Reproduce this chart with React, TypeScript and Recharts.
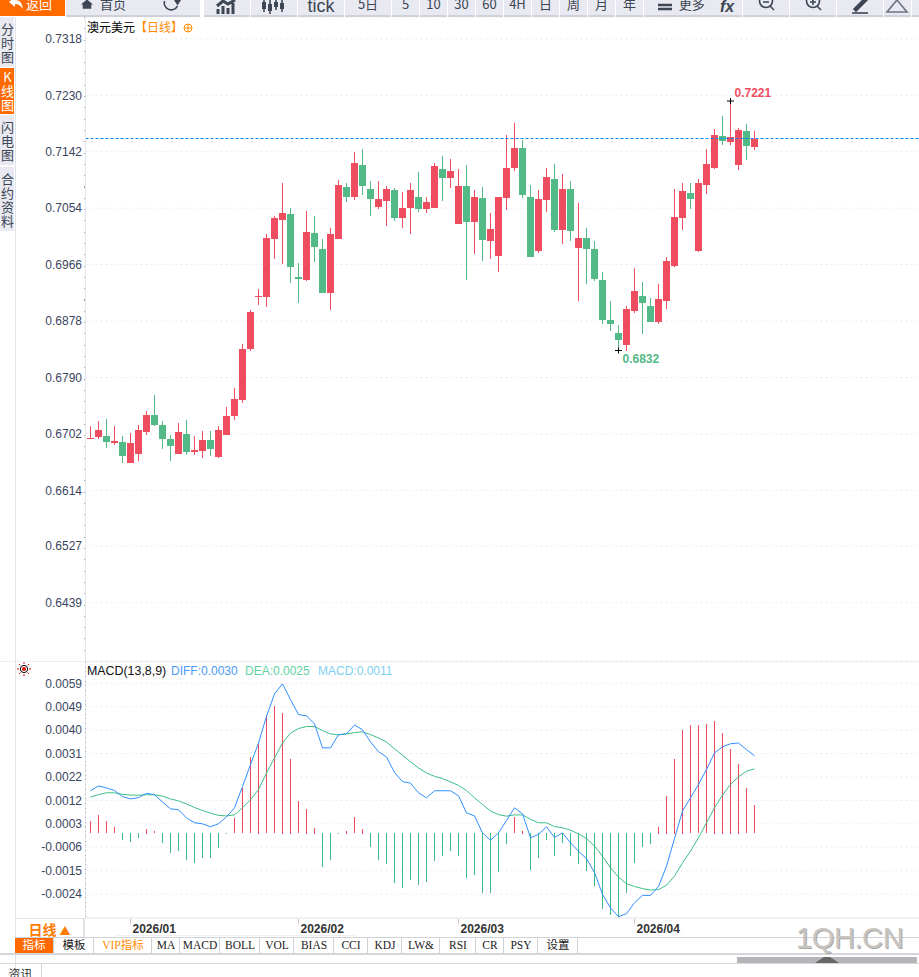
import React from "react";
import { ComposedChart, Bar, Line, XAxis, YAxis, CartesianGrid, ReferenceLine, ReferenceDot } from "recharts";

// daily AUD/USD candles
const opens = [0.66937,0.66968,0.66983,0.66874,0.6689,0.66563,0.66703,0.67046,0.67311,0.67155,0.66937,0.66703,0.67015,0.66734,0.6675,0.66921,0.66656,0.66999,0.67295,0.67545,0.6834,0.6915,0.6915,0.70054,0.70351,0.70444,0.69462,0.69415,0.70148,0.69899,0.69213,0.70054,0.70865,0.70709,0.71208,0.70834,0.70553,0.70647,0.70818,0.70382,0.70538,0.70709,0.70522,0.70538,0.71146,0.71005,0.70288,0.70881,0.7032,0.70694,0.70023,0.69789,0.70694,0.71161,0.71473,0.70709,0.69867,0.70662,0.7099,0.70195,0.70834,0.69914,0.7007,0.69899,0.69415,0.68792,0.68589,0.68402,0.68932,0.69166,0.6901,0.68761,0.69088,0.69634,0.70382,0.70772,0.69867,0.70896,0.71161,0.7166,0.71567,0.71208,0.71738,0.71489];
const highs = [0.67139,0.67217,0.67248,0.67139,0.66983,0.6703,0.67155,0.67373,0.67623,0.67217,0.66999,0.67186,0.67233,0.66983,0.67061,0.67061,0.67139,0.67436,0.67732,0.68418,0.68948,0.69275,0.70132,0.70413,0.70927,0.70538,0.6968,0.70491,0.70413,0.70054,0.70226,0.70974,0.70927,0.71411,0.71457,0.70959,0.70959,0.70881,0.7085,0.70787,0.70927,0.71099,0.70709,0.71239,0.71348,0.71302,0.71146,0.71208,0.70818,0.70865,0.7046,0.70709,0.71676,0.71863,0.71598,0.70896,0.70818,0.71161,0.71224,0.71068,0.70959,0.70616,0.70226,0.70023,0.6954,0.69088,0.68714,0.6901,0.69602,0.69384,0.69135,0.69353,0.69774,0.70834,0.70927,0.70927,0.7099,0.71457,0.71769,0.71972,0.7221,0.71785,0.71847,0.71738];
const lows = [0.66937,0.66937,0.66796,0.66843,0.66563,0.66563,0.66594,0.66999,0.67139,0.66781,0.66594,0.66703,0.66687,0.66687,0.6664,0.66672,0.6664,0.66999,0.67233,0.67498,0.68309,0.69026,0.68994,0.69743,0.69665,0.69369,0.69057,0.694,0.69696,0.69213,0.68948,0.70054,0.70631,0.70662,0.7074,0.70413,0.70522,0.70257,0.70335,0.70226,0.70132,0.70475,0.7046,0.70538,0.70647,0.7085,0.70288,0.69415,0.69821,0.69712,0.69743,0.6954,0.70507,0.71115,0.70694,0.69774,0.69836,0.70475,0.70164,0.69977,0.70023,0.69088,0.69353,0.694,0.68729,0.6862,0.6832,0.68309,0.68901,0.68574,0.68761,0.68729,0.68963,0.69618,0.70195,0.70522,0.69852,0.70756,0.71146,0.7152,0.7152,0.7113,0.71286,0.71442];
const closes = [0.66952,0.67077,0.6689,0.66905,0.66672,0.66874,0.67077,0.67311,0.67155,0.66937,0.66828,0.67046,0.66734,0.66765,0.66921,0.66781,0.67077,0.67295,0.6756,0.6834,0.68916,0.69166,0.7007,0.70382,0.7046,0.69618,0.69431,0.70164,0.6993,0.69213,0.70132,0.70896,0.70709,0.71239,0.70881,0.70678,0.70678,0.70834,0.70382,0.70538,0.70818,0.70522,0.70631,0.71192,0.71005,0.71115,0.70881,0.7032,0.70709,0.70039,0.7021,0.70709,0.71161,0.71473,0.7074,0.69774,0.70678,0.71021,0.70195,0.70834,0.70179,0.7007,0.69899,0.69431,0.68792,0.68729,0.6848,0.68963,0.69244,0.69057,0.68761,0.69119,0.69712,0.70397,0.70803,0.70678,0.70927,0.71224,0.71676,0.71582,0.71645,0.71754,0.71504,0.71613];

const diff = [0.00167,0.00186,0.00178,0.00168,0.00144,0.00135,0.0014,0.00157,0.00151,0.00123,0.00096,0.00092,0.0006,0.00041,0.00037,0.00025,0.00037,0.00064,0.001,0.00184,0.0027,0.00355,0.0046,0.00548,0.00588,0.00526,0.00467,0.00462,0.0043,0.00336,0.00336,0.00388,0.00391,0.00426,0.00407,0.00359,0.00321,0.003,0.00239,0.00203,0.00197,0.00159,0.00139,0.00167,0.00167,0.00167,0.00147,0.0008,0.00068,0.00001,-0.00028,0.00001,0.0005,0.001,0.00076,-0.00018,-0.00005,0.00025,-0.00017,0.00001,-0.00038,-0.00071,-0.001,-0.00155,-0.00241,-0.00294,-0.00329,-0.00317,-0.00274,-0.00245,-0.00245,-0.0021,-0.0013,-0.00021,0.00087,0.00139,0.00192,0.00251,0.00316,0.0034,0.00352,0.00355,0.00329,0.00305];
const dea = [0.00142,0.00152,0.00159,0.00159,0.00153,0.0015,0.0015,0.00151,0.00151,0.00146,0.00135,0.00127,0.00115,0.00101,0.00089,0.00079,0.0007,0.00068,0.00072,0.001,0.00132,0.00172,0.00237,0.00296,0.00355,0.00394,0.00412,0.0042,0.0042,0.00404,0.00391,0.00387,0.00391,0.00396,0.00399,0.00388,0.00375,0.00359,0.00332,0.00307,0.00281,0.00257,0.00237,0.00224,0.00215,0.00202,0.00188,0.00168,0.00139,0.00113,0.00087,0.00073,0.00067,0.00072,0.00072,0.00055,0.00041,0.00041,0.00026,0.00021,0.00012,-0.00003,-0.00021,-0.00051,-0.00091,-0.00136,-0.00173,-0.00199,-0.0021,-0.00218,-0.00224,-0.00222,-0.00205,-0.00169,-0.00117,-0.00071,-0.00018,0.00041,0.001,0.0015,0.00192,0.00222,0.00244,0.00253];
const macd = [0.00047,0.0007,0.00047,0.00024,-0.00029,-0.00037,-0.00021,0.00018,0.00007,-0.00041,-0.0008,-0.00072,-0.00108,-0.00119,-0.001,-0.001,-0.0006,-0.00005,0.00058,0.00178,0.00298,0.00357,0.00466,0.00502,0.00475,0.00294,0.00125,0.00097,0.00022,-0.00135,-0.00108,-0.00005,0.0001,0.00062,0.00018,-0.00056,-0.00108,-0.00123,-0.00198,-0.00218,-0.00186,-0.00206,-0.00194,-0.00111,-0.00092,-0.00072,-0.00092,-0.00178,-0.00167,-0.00237,-0.00237,-0.00155,-0.00045,0.00062,0.0001,-0.00147,-0.001,-0.00029,-0.00092,-0.00041,-0.00092,-0.00123,-0.00151,-0.0021,-0.003,-0.00324,-0.00332,-0.00237,-0.00119,-0.00056,-0.00045,0.00026,0.00148,0.00294,0.00408,0.00424,0.00424,0.00428,0.00443,0.00396,0.00333,0.00274,0.00176,0.00109];

const priceTicks = [0.7318, 0.723, 0.7142, 0.7054, 0.6966, 0.6878, 0.679, 0.6702, 0.6614, 0.6527, 0.6439];
const macdTicks = [0.0059, 0.00498, 0.00406, 0.00314, 0.00221, 0.00129, 0.00037, -0.00055, -0.00148, -0.0024];
const macdTickLabels = ["0.0059", "0.0049", "0.0040", "0.0031", "0.0022", "0.0012", "0.0003", "-0.0006", "-0.0015", "-0.0024"];
const monthTicks = [5, 26, 46, 68];
const monthLabels = ["2026/01", "2026/02", "2026/03", "2026/04"];

const lastPrice = 0.71626;
const RED = "#ee4d5f";
const GREEN = "#52b987";
const SANS = '"Liberation Sans", Arial, "Noto Sans CJK SC", sans-serif';
const CJK = '"Noto Sans CJK SC", sans-serif';

const rows = opens.map((open, i) => ({
  session: i,
  open,
  high: highs[i],
  low: lows[i],
  close: closes[i],
  diff: diff[i],
  dea: dea[i],
  macd: macd[i],
}));

// body position is taken from the wick rectangle that the y scale already gave us
function Candle(props: any) {
  const { x, y, width, height, payload } = props;
  const { open, close, high, low } = payload;
  const color = close >= open ? RED : GREEN;
  const perUnit = high === low ? 0 : height / (high - low);
  const top = Math.round(y + (high - Math.max(open, close)) * perUnit);
  const bottom = Math.round(y + (high - Math.min(open, close)) * perUnit);
  const px = Math.round(x + width / 2 - 0.5); // whole pixel, otherwise the wick goes pale
  return (
    <g>
      <rect x={px} y={Math.round(y)} width={1} height={Math.max(Math.round(height), 1)} fill={color} />
      <rect x={px - 3} y={top} width={7} height={Math.max(bottom - top, 1)} fill={color} />
    </g>
  );
}

// 1px histogram stick in the middle of the band, snapped so it stays crisp
function Stick(props: any) {
  const { x, y, width, height, payload } = props;
  const top = Math.round(Math.min(y, y + height));
  const h = Math.max(Math.round(Math.abs(height)), 1);
  const px = Math.round(x + width / 2 - 0.5);
  return <rect x={px} y={top} width={1} height={h} fill={payload.macd >= 0 ? "#f0475a" : "#3dba85"} />;
}

function Extreme(props: any) {
  const { cx, cy, label, color, dx, dy } = props;
  return (
    <g>
      <line x1={cx - 3.5} x2={cx + 3.5} y1={cy} y2={cy} stroke="#000" />
      <line x1={cx} x2={cx} y1={cy - 3} y2={cy + 3} stroke="#000" />
      <text x={cx + dx} y={cy + dy} fill={color} fontFamily={SANS} fontSize={12} fontWeight="bold">{label}</text>
    </g>
  );
}

function MonthTick(props: any) {
  const { x, y, payload } = props;
  return (
    <g>
      <line x1={x} x2={x} y1={y - 1} y2={y + 4} stroke="#ccc" />
      <text x={x + 2} y={y + 13} fill="#333" fontFamily={SANS} fontSize={12} fontWeight="bold">
        {monthLabels[monthTicks.indexOf(payload.value)]}
      </text>
    </g>
  );
}

// [left, right, label, shift of the label]
const toolbar: [number, number, string, number][] = [
  [66, 137, "首页", 16], [137, 201, "", 0], [204, 251, "", 0], [251, 298, "", 0], [298, 345, "tick", 0], [345, 392, "5日", 0],
  [392, 420, "5", 0], [420, 448, "10", 0], [448, 476, "30", 0], [476, 504, "60", 0], [504, 532, "4H", 0], [532, 560, "日", 0],
  [560, 588, "周", 0], [588, 616, "月", 0], [616, 644, "年", 0], [644, 715, "更多", 17], [715, 743, "", 0], [743, 790, "", 0],
  [790, 837, "", 0], [837, 884, "", 0], [884, 912, "", 0], [912, 925, "", 0],
];

// [top, bottom, first glyph offset, label]
const sideTabs: [number, number, number, string, boolean][] = [
  [17, 67, 6, "分时图", false],
  [68, 114, 3, "K线图", true],
  [115, 165, 6, "闪电图", false],
  [167, 231, 6, "合约资料", false],
];

const bottomTabs: [number, number, string][] = [
  [15, 54, "指标"], [55, 94, "模板"], [95, 152, "VIP指标"], [153, 180, "MA"], [181, 220, "MACD"], [221, 260, "BOLL"],
  [261, 294, "VOL"], [295, 334, "BIAS"], [335, 368, "CCI"], [369, 402, "KDJ"], [403, 440, "LW&"], [441, 476, "RSI"],
  [477, 504, "CR"], [505, 538, "PSY"], [539, 578, "设置"],
];

function abs(left: number, top: number, width: number, height: number, extra: React.CSSProperties = {}): React.CSSProperties {
  return { position: "absolute", left, top, width, height, ...extra };
}

function Icon({ x, children }: { x: number; children: React.ReactNode }) {
  return (
    <svg style={abs(x - 14, 0, 28, 16)} viewBox="0 0 28 16" fill="none" stroke="#3c4654" strokeWidth={1.6}>
      {children}
    </svg>
  );
}

export default function App() {
  return (
    <div style={abs(0, 0, 919, 977, { overflow: "hidden", background: "#fff", fontFamily: SANS })}>
      {/* toolbar */}
      <div style={abs(0, 0, 65, 16, { background: "#ff6a00", color: "#fff", fontSize: 13, fontFamily: CJK, lineHeight: "8px", overflow: "hidden", paddingLeft: 26, boxSizing: "border-box" })}>返回</div>
      <svg style={abs(8, 0, 16, 10)} viewBox="0 0 16 10"><path d="M1 2 L7 -3 V0 C12 0 14 3 15 9 C12 5 10 4 7 4 V7 Z" fill="#fff" /></svg>
      {toolbar.map(([l, r, label, shift]) => (
        <div key={l} style={abs(l, 0, r - l - 1, 15, {
          background: "#e8e9f1", borderBottom: "2px solid #cfd0d9", color: "#3c4654", textAlign: "center", overflow: "hidden",
          fontFamily: label === "tick" ? SANS : CJK, fontSize: label === "tick" ? 18 : 13,
          lineHeight: label === "tick" ? "12px" : "8px", paddingLeft: shift, boxSizing: "content-box",
        })}><span style={{ marginLeft: -shift / 2 }}>{label}</span></div>
      ))}
      <div style={abs(720, 1, 22, 14, { color: "#3c4654", fontFamily: SANS, fontStyle: "italic", fontWeight: "bold", fontSize: 16, lineHeight: "12px" })}>fx</div>
      <svg style={abs(81, 0, 12, 9)} viewBox="0 0 14 10"><path d="M0 5 L7 -1 L14 5 H12 V10 H2 V5 Z" fill="#3c4654" /></svg>
      <Icon x={171}><path d="M7.5 1 A7 7 0 0 0 20.5 6" /><path d="M17 0 H24 L20.5 5.5 Z" fill="#3c4654" stroke="none" /></Icon>
      <Icon x={227}><path d="M5 14 V9 M10 14 V6 M15 14 V8 M20 14 V3 M4 6 L10 1 L15 4 L22 0" strokeWidth={3} /></Icon>
      <Icon x={274}><path d="M4 0 V12 M10 0 V14 M16 0 V10 M22 0 V12" /><path d="M4 2 V9 M10 4 V11 M16 2 V7 M22 3 V9" strokeWidth={4} /></Icon>
      <Icon x={665}><path d="M7 5 H21 M7 9 H21" strokeWidth={2.6} /></Icon>
      <Icon x={766}><circle cx={14} cy={1} r={6.5} /><path d="M11 2 H17 M18 6 L22 10" /></Icon>
      <Icon x={813}><circle cx={14} cy={1} r={6.5} /><path d="M11 2 H17 M14 -1 V5 M18 6 L22 10" /></Icon>
      <Icon x={860}><path d="M8 9 L19 -2 L21 0 L10 11 Z" fill="#3c4654" /><path d="M6 13 H22" /></Icon>
      <Icon x={897}><path d="M14 0 L4 12 H24 Z" stroke="#6d7480" /></Icon>

      {/* side tabs */}
      <div style={abs(15, 17, 1, 960, { background: "#dfe2e6" })} />
      {sideTabs.map(([t, b, pad, label, active]) => (
        <div key={t} style={abs(0, t, 14, b - t - pad, {
          background: active ? "#ff6a00" : "#e8e9f1", color: active ? "#fff" : "#3c4654", fontFamily: CJK,
          fontSize: 13, letterSpacing: 1, lineHeight: "14px", overflow: "hidden", paddingTop: pad,
          writingMode: "vertical-rl", textOrientation: "upright",
        })}>{label}</div>
      ))}

      {/* price panel */}
      <div style={abs(0, 17, 919, 644)}>
        <ComposedChart width={919} height={644} data={rows} margin={{ top: 0, right: 0, bottom: 0, left: 0 }}>
          <CartesianGrid horizontal vertical={false} stroke="#ececec" strokeDasharray="2 3" />
          <XAxis dataKey="session" type="number" domain={[-0.625, 103.5625]} hide />
          <YAxis domain={[0.6348, 0.7352]} ticks={priceTicks} interval={0} width={85.5} tickLine={false} tickSize={0}
            axisLine={{ stroke: "#e4e7ea" }} tickMargin={3.5}
            tick={{ fontSize: 12, fill: "#3a4560", fontFamily: SANS }} tickFormatter={(v: number) => v.toFixed(4)} />
          <Bar dataKey={(d: any) => [d.low, d.high]} barSize={8} shape={Candle} isAnimationActive={false} />
          <ReferenceLine y={lastPrice} stroke="#0a84ff" strokeWidth={1.2} strokeDasharray="3 2" />
          <ReferenceDot x={80} y={0.7221} r={0} shape={(p: any) => <Extreme {...p} label="0.7221" color={RED} dx={4} dy={-4} />} />
          <ReferenceDot x={66} y={0.6832} r={0} shape={(p: any) => <Extreme {...p} label="0.6832" color={GREEN} dx={4} dy={12} />} />
        </ComposedChart>
      </div>
      <div style={abs(84, 17, 1, 644, { background: "repeating-linear-gradient(to bottom, #9aa3ad 0 1px, transparent 1px 11.3px)" })} />
      <div style={abs(0, 661, 919, 1, { background: "#e6eef0" })} />
      <div style={abs(87, 19, 300, 16, { fontSize: 12, lineHeight: "16px", fontFamily: CJK, color: "#000", whiteSpace: "nowrap" })}>
        澳元美元<span style={{ color: "#ff8a00" }}>【日线】</span>
      </div>
      <svg style={abs(183, 23, 10, 10)} viewBox="0 0 10 10" fill="none" stroke="#ff8a00"><circle cx={5} cy={5} r={4} /><path d="M1 5 H9 M5 1 V9" /></svg>

      {/* MACD panel */}
      <div style={abs(0, 662, 919, 276)}>
        <ComposedChart width={919} height={276} data={rows} margin={{ top: 0, right: 0, bottom: 0, left: 0 }}>
          <CartesianGrid horizontal vertical={false} stroke="#ececec" strokeDasharray="2 3" />
          <XAxis dataKey="session" type="number" domain={[-0.625, 103.5625]} ticks={monthTicks} interval={0} height={20}
            tickLine={false} tickSize={0} axisLine={{ stroke: "#e4e7ea" }} tick={MonthTick} />
          <YAxis domain={[-0.00334, 0.00674]} ticks={macdTicks} interval={0} width={85.5} tickLine={false} tickSize={0}
            axisLine={{ stroke: "#e4e7ea" }} tickMargin={3.5} tick={{ fontSize: 12, fill: "#3a4560", fontFamily: SANS }}
            tickFormatter={(v: number) => macdTickLabels[macdTicks.indexOf(v)]} />
          <Bar dataKey="macd" barSize={8} shape={Stick} isAnimationActive={false} />
          <Line dataKey="dea" type="linear" stroke="#3dbf85" strokeWidth={1} dot={false} isAnimationActive={false} />
          <Line dataKey="diff" type="linear" stroke="#2e8fff" strokeWidth={1} dot={false} isAnimationActive={false} />
        </ComposedChart>
      </div>
      <div style={abs(85, 662, 1, 256, { background: "repeating-linear-gradient(to bottom, #aab3bd 0 1px, transparent 1px 4.7px)" })} />
      <div style={abs(87, 663, 84, 16, { fontSize: 12.4, lineHeight: "16px", color: "#111", whiteSpace: "nowrap" })}>MACD(13,8,9)</div>
      <div style={abs(171, 663, 72, 16, { fontSize: 12, lineHeight: "16px", color: "#4b9bf5", whiteSpace: "nowrap" })}>DIFF:0.0030</div>
      <div style={abs(245, 663, 70, 16, { fontSize: 12, lineHeight: "16px", color: "#5fd3a0", whiteSpace: "nowrap" })}>DEA:0.0025</div>
      <div style={abs(318, 663, 80, 16, { fontSize: 12, lineHeight: "16px", color: "#7fd0f0", whiteSpace: "nowrap" })}>MACD:0.0011</div>
      <svg style={abs(17, 662, 14, 14)} viewBox="0 0 14 14" stroke="#e81010" fill="none">
        <circle cx={7} cy={7} r={3.6} stroke="#000" /><circle cx={7} cy={7} r={2} fill="#e81010" stroke="none" />
        <path d="M7 0 V2 M7 12 V14 M0 7 H2 M12 7 H14 M2 2 L3.4 3.4 M12 2 L10.6 3.4 M2 12 L3.4 10.6 M12 12 L10.6 10.6" />
      </svg>

      {/* bottom strip */}
      <div style={abs(15, 918, 70, 20, { borderRight: "2px solid #dfe2e6", borderLeft: "1px solid #dfe2e6", borderTop: "1px solid #dfe2e6", background: "#fff", color: "#ff7a00", fontSize: 14, fontWeight: "bold", fontFamily: CJK, lineHeight: "20px", textAlign: "center", boxSizing: "border-box" })}>
        日线 <span style={{ fontSize: 11 }}>▲</span>
      </div>
      <div style={abs(117, 935, 238, 1, { background: "#eef0f2" })} />
      <div style={abs(15, 937, 904, 1, { background: "#cfd3d8" })} />
      {bottomTabs.map(([l, r, label]) => (
        <div key={l} style={abs(l, 938, r - l, 15, {
          background: label === "指标" ? "#ff6a00" : "#fff", color: label === "指标" ? "#fff" : label === "VIP指标" ? "#ff8a00" : "#222",
          borderRight: "1px solid #cfd3d8", boxSizing: "border-box", textAlign: "center",
          fontFamily: '"Liberation Serif", "Noto Sans CJK SC", serif', fontSize: 11.5, lineHeight: "15px", whiteSpace: "nowrap",
        })}>{label}</div>
      ))}
      <div style={abs(0, 953, 919, 2, { background: "#d4d6da" })} />
      <div style={abs(737, 957, 180, 6, { background: "#b5b5b9" })} />
      <svg style={abs(815, 957, 24, 6)} viewBox="0 0 24 6"><path d="M0 6 L9 0 H15 L24 6 Z" fill="#666" /></svg>
      <div style={abs(0, 963, 919, 1, { background: "#d4d6da" })} />
      <div style={abs(0, 964, 41, 13, { borderRight: "1px solid #d4d6da", fontFamily: CJK, fontSize: 12, lineHeight: "20px", textAlign: "center", color: "#333", overflow: "hidden" })}>资讯</div>
      <div style={abs(796, 921, 120, 34, { fontFamily: SANS, fontSize: 29, color: "#c9c5c0", letterSpacing: -0.4, lineHeight: "34px", textShadow: "1px 1px 0 #a8a8a8", whiteSpace: "nowrap" })}>1QH.CN</div>
    </div>
  );
}
